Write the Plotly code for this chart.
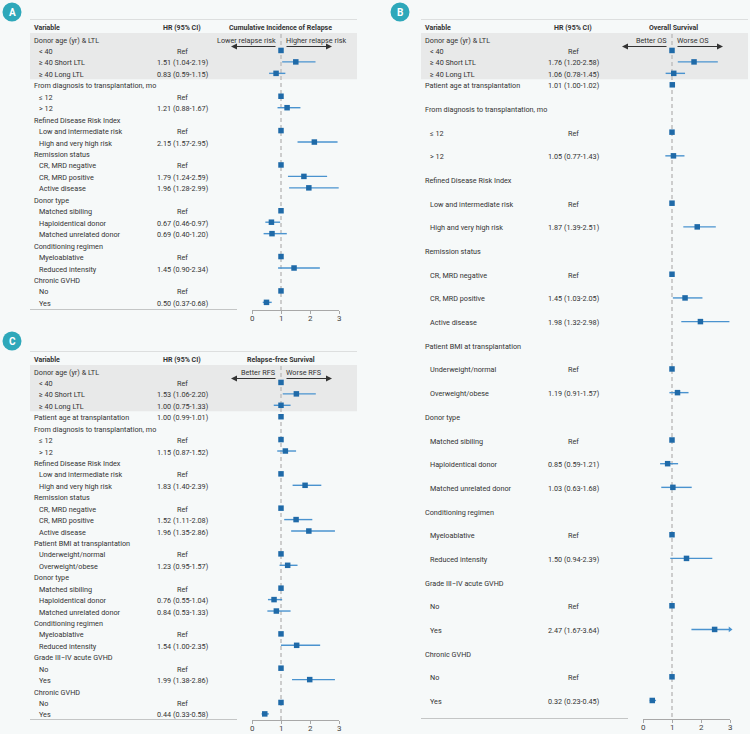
import plotly.graph_objects as go

W, H = 750, 734
XMAX = 3

# ---------------- Panel A: Cumulative Incidence of Relapse ----------------
a_labels = ["Donor age (yr) & LTL", "< 40", "≥ 40 Short LTL", "≥ 40 Long LTL",
            "From diagnosis to transplantation, mo", "≤ 12", "> 12",
            "Refined Disease Risk Index", "Low and intermediate risk", "High and very high risk",
            "Remission status", "CR, MRD negative", "CR, MRD positive", "Active disease",
            "Donor type", "Matched sibiling", "Haploidentical donor", "Matched unrelated donor",
            "Conditioning regimen", "Myeloablative", "Reduced intensity",
            "Chronic GVHD", "No", "Yes"]
a_level = [0, 1, 1, 1, 0, 1, 1, 0, 1, 1, 0, 1, 1, 1, 0, 1, 1, 1, 0, 1, 1, 0, 1, 1]
a_hr = [None, "Ref", 1.51, 0.83, None, "Ref", 1.21, None, "Ref", 2.15, None, "Ref", 1.79, 1.96,
        None, "Ref", 0.67, 0.69, None, "Ref", 1.45, None, "Ref", 0.50]
a_lo = [None, None, 1.04, 0.59, None, None, 0.88, None, None, 1.57, None, None, 1.24, 1.28,
        None, None, 0.46, 0.40, None, None, 0.90, None, None, 0.37]
a_hi = [None, None, 2.19, 1.15, None, None, 1.67, None, None, 2.95, None, None, 2.59, 2.99,
        None, None, 0.97, 1.20, None, None, 2.34, None, None, 0.68]

# ---------------- Panel B: Overall Survival ----------------
b_labels = ["Donor age (yr) & LTL", "< 40", "≥ 40 Short LTL", "≥ 40 Long LTL",
            "Patient age at transplantation",
            "From diagnosis to transplantation, mo", "≤ 12", "> 12",
            "Refined Disease Risk Index", "Low and intermediate risk", "High and very high risk",
            "Remission status", "CR, MRD negative", "CR, MRD positive", "Active disease",
            "Patient BMI at transplantation", "Underweight/normal", "Overweight/obese",
            "Donor type", "Matched sibiling", "Haploidentical donor", "Matched unrelated donor",
            "Conditioning regimen", "Myeloablative", "Reduced intensity",
            "Grade III−IV acute GVHD", "No", "Yes",
            "Chronic GVHD", "No", "Yes"]
b_level = [0, 1, 1, 1, 0, 0, 1, 1, 0, 1, 1, 0, 1, 1, 1, 0, 1, 1, 0, 1, 1, 1, 0, 1, 1, 0, 1, 1, 0, 1, 1]
b_hr = [None, "Ref", 1.76, 1.06, 1.01, None, "Ref", 1.05, None, "Ref", 1.87, None, "Ref", 1.45, 1.98,
        None, "Ref", 1.19, None, "Ref", 0.85, 1.03, None, "Ref", 1.50, None, "Ref", 2.47,
        None, "Ref", 0.32]
b_lo = [None, None, 1.20, 0.78, 1.00, None, None, 0.77, None, None, 1.39, None, None, 1.03, 1.32,
        None, None, 0.91, None, None, 0.59, 0.63, None, None, 0.94, None, None, 1.67,
        None, None, 0.23]
b_hi = [None, None, 2.58, 1.45, 1.02, None, None, 1.43, None, None, 2.51, None, None, 2.05, 2.98,
        None, None, 1.57, None, None, 1.21, 1.68, None, None, 2.39, None, None, 3.64,
        None, None, 0.45]

# ---------------- Panel C: Relapse-free Survival ----------------
c_labels = list(b_labels)
c_level = list(b_level)
c_hr = [None, "Ref", 1.53, 1.00, 1.00, None, "Ref", 1.15, None, "Ref", 1.83, None, "Ref", 1.52, 1.96,
        None, "Ref", 1.23, None, "Ref", 0.76, 0.84, None, "Ref", 1.54, None, "Ref", 1.99,
        None, "Ref", 0.44]
c_lo = [None, None, 1.06, 0.75, 0.99, None, None, 0.87, None, None, 1.40, None, None, 1.11, 1.35,
        None, None, 0.95, None, None, 0.55, 0.53, None, None, 1.00, None, None, 1.38,
        None, None, 0.33]
c_hi = [None, None, 2.20, 1.33, 1.01, None, None, 1.52, None, None, 2.39, None, None, 2.08, 2.86,
        None, None, 1.57, None, None, 1.04, 1.33, None, None, 2.35, None, None, 2.86,
        None, None, 0.58]

tick_vals = [0, 1, 2, 3]
tick_text = ["0", "1", "2", "3"]

panels = [
    dict(badge="A", labels=a_labels, level=a_level, hr=a_hr, lo=a_lo, hi=a_hi,
         title="Cumulative Incidence of Relapse", ltxt="Lower relapse risk", rtxt="Higher relapse risk",
         left=30, right=357, top=19, first=39, step=11.45, compact=None, wide=None,
         axis_y=310, x0=252, x3=339, lab_x=32, hr_cx=182, title_cx=280, line_end=237, bxy=(12, 12)),
    dict(badge="B", labels=b_labels, level=b_level, hr=b_hr, lo=b_lo, hi=b_hi,
         title="Overall Survival", ltxt="Better OS", rtxt="Worse OS",
         left=421, right=748, top=19, first=39, step=11.45, compact=5, wide=23.68,
         axis_y=719, x0=643, x3=730, lab_x=423, hr_cx=573, title_cx=673, line_end=628, bxy=(400, 12)),
    dict(badge="C", labels=c_labels, level=c_level, hr=c_hr, lo=c_lo, hi=c_hi,
         title="Relapse-free Survival", ltxt="Better RFS", rtxt="Worse RFS",
         left=30, right=357, top=351, first=371, step=11.43, compact=None, wide=None,
         axis_y=720, x0=252, x3=339, lab_x=32, hr_cx=182, title_cx=281, line_end=237, bxy=(12, 341)),
]

FONT = "Roboto, Arial, sans-serif"
TXT = "#333333"
FS = 7.25
HFS = 7.0
TDY = 1.0
MARK = "#1f6aa8"
CI = "#4a93cf"
BG = "#f6f9f9"
BAND = "#e8e9e9"
RULE = "#c4c6c6"

fig = go.Figure()
ann = []
shp = []
layout_axes = {}

for i, p in enumerate(panels):
    sx = "" if i == 0 else str(i + 1)
    xa, ya = "x" + sx, "y" + sx
    n = len(p["labels"])
    ypos = []
    yy = p["first"]
    for k in range(n):
        if k > 0:
            yy += p["wide"] if (p["compact"] is not None and k >= p["compact"]) else p["step"]
        ypos.append(yy)

    layout_axes["xaxis" + sx] = dict(domain=[p["x0"] / W, p["x3"] / W], range=[0, XMAX], anchor=ya,
                                     showgrid=False, zeroline=False, showline=True, linecolor="#a8a8a8",
                                     linewidth=1, ticks="outside", ticklen=3, tickcolor="#a8a8a8",
                                     tickvals=tick_vals, showticklabels=False, fixedrange=True)
    layout_axes["yaxis" + sx] = dict(domain=[1 - p["axis_y"] / H, 1 - p["top"] / H],
                                     range=[p["axis_y"], p["top"]], anchor=xa, visible=False,
                                     fixedrange=True)
    # tick labels placed on the HR scale
    for tv, tt in zip(tick_vals, tick_text):
        ann.append(dict(x=tv, y=1 - (p["axis_y"] + 8) / H, xref=xa, yref="paper", text=tt,
                        showarrow=False, xanchor="center", yanchor="middle",
                        font=dict(family=FONT, size=8, color="#444")))

    shp.append(dict(type="rect", xref="paper", yref=ya, x0=p["left"] / W, x1=p["right"] / W,
                    y0=ypos[0] - 6, y1=ypos[3] + 6, fillcolor=BAND, line=dict(width=0), layer="below"))
    shp.append(dict(type="line", xref="paper", yref=ya, x0=p["left"] / W, x1=p["right"] / W,
                    y0=p["top"], y1=p["top"], line=dict(color=RULE, width=1)))
    shp.append(dict(type="line", xref="paper", yref=ya, x0=p["left"] / W, x1=p["line_end"] / W,
                    y0=p["axis_y"] - 0.5, y1=p["axis_y"] - 0.5, line=dict(color=RULE, width=1)))
    shp.append(dict(type="line", xref=xa, yref=ya, x0=1, x1=1, y0=ypos[0] - 5, y1=p["axis_y"],
                    line=dict(color="#c2c2c2", width=1.6, dash="4px,3px"), layer="below"))
    bx, by = p["bxy"]
    r = 9.5
    shp.append(dict(type="circle", xref="paper", yref="paper", x0=(bx - r) / W, x1=(bx + r) / W,
                    y0=1 - (by + r) / H, y1=1 - (by - r) / H, fillcolor="#2ea8ba", line=dict(width=0)))
    ann.append(dict(x=bx / W, y=1 - by / H, xref="paper", yref="paper", text="<b>%s</b>" % p["badge"],
                    showarrow=False, font=dict(family=FONT, size=10, color="white"),
                    xanchor="center", yanchor="middle"))

    hy = p["top"] + 8 + TDY
    for tx, xx, anc in [("Variable", p["lab_x"], "left"), ("HR (95% CI)", p["hr_cx"], "center"),
                        (p["title"], p["title_cx"], "center")]:
        ann.append(dict(x=xx / W, y=hy, xref="paper", yref=ya, text="<b>%s</b>" % tx,
                        showarrow=False, xanchor=anc, yanchor="middle",
                        font=dict(family=FONT, size=HFS, color=TXT)))

    refpx = p["x0"] + (p["x3"] - p["x0"]) / XMAX * 1
    ann.append(dict(x=(refpx - 3) / W, y=ypos[0] + TDY, xref="paper", yref=ya, text=p["ltxt"],
                    showarrow=False, xanchor="right", yanchor="middle",
                    font=dict(family=FONT, size=FS, color=TXT)))
    ann.append(dict(x=(refpx + 3) / W, y=ypos[0] + TDY, xref="paper", yref=ya, text=p["rtxt"],
                    showarrow=False, xanchor="left", yanchor="middle",
                    font=dict(family=FONT, size=FS, color=TXT)))
    ay_ = ypos[0] + 7.5
    ann.append(dict(x=(refpx - 50) / W, y=ay_, xref="paper", yref=ya, text="", showarrow=True,
                    ax=46, ay=0, arrowhead=2, arrowsize=1, arrowwidth=1.2, arrowcolor="#333",
                    standoff=0, startstandoff=0))
    ann.append(dict(x=(refpx + 51) / W, y=ay_, xref="paper", yref=ya, text="", showarrow=True,
                    ax=-47, ay=0, arrowhead=2, arrowsize=1, arrowwidth=1.2, arrowcolor="#333",
                    standoff=0, startstandoff=0))

    lx, ly, mx, my, ox, oy = [], [], [], [], [], []
    for k in range(n):
        ann.append(dict(x=(p["lab_x"] + 5 * p["level"][k]) / W, y=ypos[k] + TDY, xref="paper", yref=ya,
                        text=p["labels"][k], showarrow=False, xanchor="left", yanchor="middle",
                        font=dict(family=FONT, size=FS, color=TXT)))
        v = p["hr"][k]
        if v is None:
            continue
        if v == "Ref":
            s = "Ref"
            mx.append(1.0)
            my.append(ypos[k])
        else:
            lo, hi = p["lo"][k], p["hi"][k]
            s = f"{v:.2f} ({lo:.2f}-{hi:.2f})"
            mx.append(v)
            my.append(ypos[k])
            lx += [lo, min(hi, XMAX), None]
            ly += [ypos[k], ypos[k], None]
            if hi > XMAX:
                ox.append(XMAX)
                oy.append(ypos[k])
        ann.append(dict(x=p["hr_cx"] / W, y=ypos[k] + TDY, xref="paper", yref=ya, text=s,
                        showarrow=False, xanchor="center", yanchor="middle",
                        font=dict(family=FONT, size=FS, color=TXT)))

    fig.add_trace(go.Scatter(x=lx, y=ly, mode="lines", line=dict(color=CI, width=1.4),
                             xaxis=xa, yaxis=ya, hoverinfo="skip", showlegend=False))
    fig.add_trace(go.Scatter(x=mx, y=my, mode="markers",
                             marker=dict(symbol="square", size=5.5, color=MARK, line=dict(width=0)),
                             xaxis=xa, yaxis=ya, cliponaxis=False, showlegend=False))
    if ox:
        fig.add_trace(go.Scatter(x=ox, y=oy, mode="markers",
                                 marker=dict(symbol="triangle-right", size=5, color=CI),
                                 xaxis=xa, yaxis=ya, cliponaxis=False, showlegend=False))

fig.update_layout(width=W, height=H, margin=dict(l=0, r=0, t=0, b=0),
                  paper_bgcolor=BG, plot_bgcolor="rgba(0,0,0,0)",
                  annotations=ann, shapes=shp, showlegend=False,
                  font=dict(family=FONT, size=FS, color=TXT), **layout_axes)

fig.write_html("out.html")
